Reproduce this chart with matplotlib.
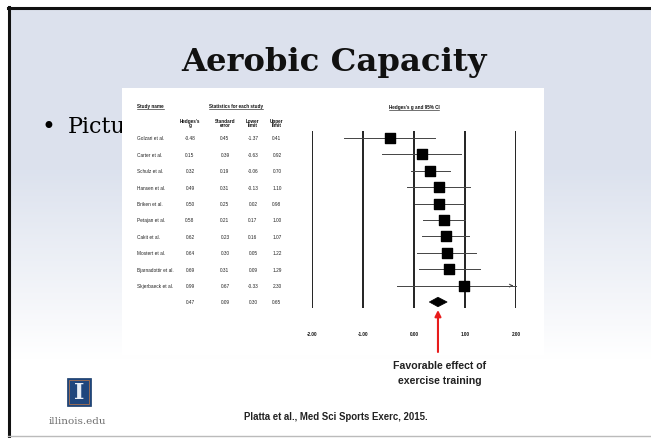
import numpy as np
import matplotlib
matplotlib.use('Agg')
import matplotlib.pyplot as plt
from matplotlib.patches import Rectangle, Polygon
from matplotlib.transforms import blended_transform_factory

# data
studies = ['Golzari et al.', 'Carter et al.', 'Schulz et al.', 'Hansen et al.',
           'Briken et al.', 'Petajan et al.', 'Cakit et al.', 'Mostert et al.',
           'Bjarnadottir et al.', 'Skjerbaeck et al.']
hedges_g = [-0.48, 0.15, 0.32, 0.49, 0.50, 0.58, 0.62, 0.64, 0.69, 0.99]
std_err  = [0.45, 0.39, 0.19, 0.31, 0.25, 0.21, 0.23, 0.30, 0.31, 0.67]
lower    = [-1.37, -0.63, -0.06, -0.13, 0.02, 0.17, 0.16, 0.05, 0.09, -0.33]
upper    = [0.41, 0.92, 0.70, 1.10, 0.98, 1.00, 1.07, 1.22, 1.29, 2.30]
summary  = [0.47, 0.09, 0.30, 0.65]   # g, se, lower, upper
xticks   = [-2, -1, 0, 1, 2]
xticklabels = ['-2.00', '-1.00', '0.00', '1.00', '2.00']

W, H = 651, 439
fig = plt.figure(figsize=(W/100, H/100), dpi=100)
fig.patch.set_facecolor('white')

# slide background in pixel coordinates
bg = fig.add_axes([0, 0, 1, 1])
bg.set_xlim(0, W)
bg.set_ylim(H, 0)
bg.axis('off')

c0 = np.array([0.863, 0.886, 0.933])
yy = np.linspace(8, 437, 300)
t = np.clip((yy - 170) / (360 - 170), 0, 1)[:, None]
grad = (c0 * (1 - t) + t)[:, None, :]
bg.imshow(grad, extent=[8, W, 437, 8], aspect='auto', zorder=0)

bg.plot([9, 9], [8, 437], color='#111111', lw=2.2, zorder=1)
bg.plot([8, W], [9, 9], color='#111111', lw=2.2, zorder=1)
bg.plot([8, W], [437.5, 437.5], color='#bbbbbb', lw=1, zorder=1)

bg.text(334, 63, 'Aerobic Capacity', family='DejaVu Serif', weight='bold',
        fontsize=23.2, ha='center', va='center', color='#111111', zorder=2)
bg.text(48, 127, '\u2022', family='DejaVu Sans', fontsize=17, ha='center', va='center', zorder=2)
bg.text(68, 127, 'Picture', family='DejaVu Serif', fontsize=16, ha='left', va='center', zorder=2)

# white picture box
bg.add_patch(Rectangle((122, 89), 422, 267, facecolor='white', edgecolor='none', zorder=3))

# forest plot axes
x0, x1 = 312, 516
ytop, ybot = 132, 309
row0, rowh = 139, 16.4
ax = fig.add_axes([x0/W, 1 - ybot/H, (x1 - x0)/W, (ybot - ytop)/H])
ax.set_xlim(-2, 2)
ax.set_ylim((ybot - row0)/rowh, (ytop - row0)/rowh)
ax.axis('off')
ax.patch.set_alpha(0)

for xv in xticks:
    ax.axvline(xv, color='#111111', lw=1.3, zorder=1)

rows = np.arange(len(studies))
for i in rows:
    hi = min(upper[i], 2.0)
    ax.plot([lower[i], hi], [i, i], color='#444444', lw=0.7, zorder=2, clip_on=False)
    if upper[i] > 2.0:
        ax.annotate('', xy=(2.0, i), xytext=(1.85, i),
                    arrowprops=dict(arrowstyle='->', color='#444444', lw=0.7,
                                    mutation_scale=5), zorder=2)
ax.scatter(hedges_g, rows, marker='s', s=60, color='black', zorder=3, clip_on=False)

ys = len(studies)
h = 0.29
ax.add_patch(Polygon([(summary[2], ys), (summary[0], ys - h), (summary[3], ys), (summary[0], ys + h)],
                     closed=True, facecolor='black', edgecolor='black', lw=0.5, zorder=3, clip_on=False))

for xv, lab in zip(xticks, xticklabels):
    ax.text(xv, (335 - row0)/rowh, lab, fontsize=3.3, weight='bold', family='Liberation Sans',
            ha='center', va='center', color='#111111', clip_on=False)

# table text: x in slide pixels, y in forest rows
tr = blended_transform_factory(bg.transData, ax.transData)
tfont = dict(family='Liberation Sans', fontsize=3.4, color='#222222', va='center', zorder=5)
col_x = [190, 225, 253, 277]
for i in rows:
    bg.text(137, i, studies[i], transform=tr, ha='left', **tfont)
    for cx, v in zip(col_x, [hedges_g[i], std_err[i], lower[i], upper[i]]):
        bg.text(cx, i, '%.2f' % v, transform=tr, ha='center', **tfont)
for cx, v in zip(col_x, summary):
    bg.text(cx, ys, '%.2f' % v, transform=tr, ha='center', **tfont)

hfont = dict(family='Liberation Sans', fontsize=3.3, weight='bold', color='#111111',
             va='center', zorder=5)
underlined = [
    bg.text(137, 107, 'Study name', ha='left', **hfont),
    bg.text(236, 107, 'Statistics for each study', ha='center', **hfont),
    bg.text(414, 108, "Hedges's g and 95% CI", ha='center', **hfont),
]
subheads = ["Hedges's\ng", 'Standard\nerror', 'Lower\nlimit', 'Upper\nlimit']
for cx, s in zip(col_x, subheads):
    bg.text(cx, 123.5, s, ha='center', linespacing=0.9, **hfont)

fig.canvas.draw()
rend = fig.canvas.get_renderer()
for txt in underlined:
    bb = txt.get_window_extent(rend)
    bg.plot([bb.x0, bb.x1], [H - bb.y0 + 0.6, H - bb.y0 + 0.6], color='#222222', lw=0.45, zorder=5)

# red arrow to the summary effect
ta = blended_transform_factory(ax.transData, bg.transData)
bg.annotate('', xy=(summary[0], 311), xytext=(summary[0], 353), xycoords=ta, textcoords=ta,
            arrowprops=dict(arrowstyle='-|>', color='#e81c1c', lw=1.5, mutation_scale=9,
                            shrinkA=0, shrinkB=0), zorder=6)
bg.text(440, 366, 'Favorable effect of', family='Liberation Sans', weight='bold', fontsize=7.6,
        ha='center', va='center', color='#222222', zorder=6)
bg.text(440, 381, 'exercise training', family='Liberation Sans', weight='bold', fontsize=7.6,
        ha='center', va='center', color='#222222', zorder=6)

bg.text(336, 417, 'Platta et al., Med Sci Sports Exerc, 2015.', family='Liberation Sans',
        weight='bold', fontsize=6.9, ha='center', va='center', color='#222222', zorder=6)

# logo
bg.add_patch(Rectangle((67, 379), 24, 28, facecolor='#1f467d', edgecolor='#183a68', lw=0.5, zorder=6))
bg.add_patch(Rectangle((69, 381), 20, 24, facecolor='none', edgecolor='#c77a45', lw=0.5, zorder=7))
bg.text(79, 393.5, 'I', family='DejaVu Serif', weight='bold', fontsize=16, color='#e8eef6',
        ha='center', va='center', zorder=8)
bg.text(77, 422, 'illinois.edu', family='DejaVu Serif', fontsize=7.5, color='#6e6e6e',
        ha='center', va='center', zorder=6)

plt.savefig('out.png', dpi=100)
